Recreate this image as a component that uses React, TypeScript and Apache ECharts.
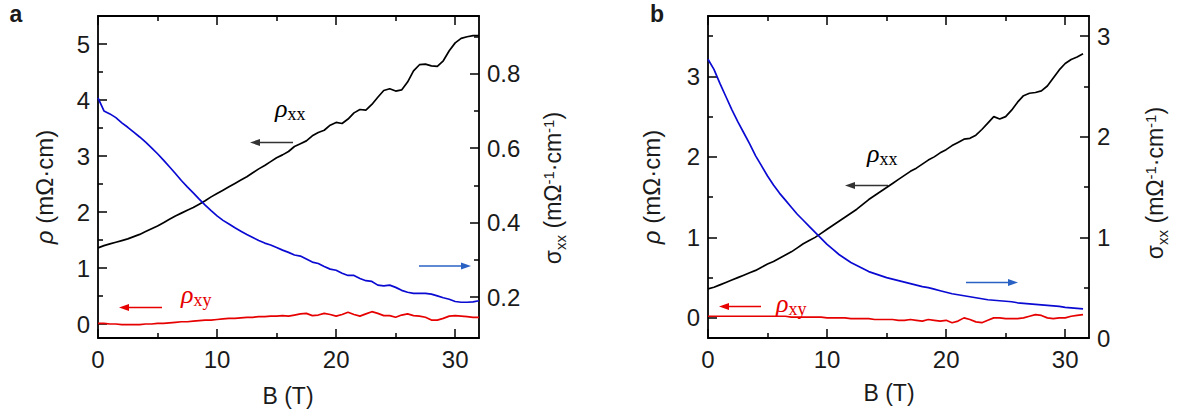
import React, { useEffect, useRef } from "react";
import * as echarts from "echarts";

// ---------- data ----------
const fieldA = [
  0, 0.5, 1, 1.5, 2, 2.5, 3, 3.5, 4, 4.5,
  5, 5.5, 6, 6.5, 7, 7.5, 8, 8.5, 9, 9.5,
  10, 10.5, 11, 11.5, 12, 12.5, 13, 13.5, 14, 14.5,
  15, 15.5, 16, 16.5, 17, 17.5, 18, 18.5, 19, 19.5,
  20, 20.5, 21, 21.5, 22, 22.5, 23, 23.5, 24, 24.5,
  25, 25.5, 26, 26.5, 27, 27.5, 28, 28.5, 29, 29.5,
  30, 30.5, 31, 31.5, 32,
];
const rhoXxA = [
  1.36, 1.4, 1.43, 1.46, 1.49, 1.52, 1.56, 1.6, 1.65, 1.7,
  1.75, 1.81, 1.87, 1.93, 1.98, 2.03, 2.08, 2.14, 2.2, 2.27,
  2.33, 2.39, 2.45, 2.51, 2.57, 2.63, 2.7, 2.77, 2.83, 2.9,
  2.97, 3.02, 3.08, 3.17, 3.22, 3.27, 3.36, 3.42, 3.46, 3.55,
  3.6, 3.58, 3.66, 3.77, 3.83, 3.82, 3.92, 4.05, 4.17, 4.2,
  4.16, 4.18, 4.32, 4.52, 4.63, 4.64, 4.61, 4.6, 4.7, 4.88,
  5.02, 5.1, 5.13, 5.15, 5.15,
];
const rhoXyA = [
  0.01, 0.01, 0.0, 0.0, -0.01, -0.01, -0.01, -0.01, 0.0, 0.0,
  0.01, 0.01, 0.02, 0.03, 0.04, 0.04, 0.05, 0.06, 0.07, 0.07,
  0.08, 0.09, 0.1, 0.1, 0.11, 0.12, 0.12, 0.13, 0.13, 0.14,
  0.14, 0.15, 0.14, 0.16, 0.18, 0.19, 0.15, 0.16, 0.19, 0.17,
  0.14, 0.17, 0.21, 0.17, 0.14, 0.18, 0.22, 0.19, 0.15, 0.15,
  0.12, 0.16, 0.18, 0.15, 0.14, 0.12, 0.07, 0.07, 0.1, 0.14,
  0.15, 0.14, 0.13, 0.12, 0.12,
];
const sigmaXxA = [
  0.735, 0.7, 0.692, 0.682, 0.668, 0.656, 0.643, 0.63, 0.616, 0.601,
  0.585, 0.568, 0.55, 0.532, 0.513, 0.496, 0.48, 0.463, 0.447, 0.432,
  0.418, 0.406, 0.396, 0.386, 0.377, 0.368, 0.36, 0.352, 0.345, 0.34,
  0.333, 0.326, 0.32, 0.313, 0.31, 0.302, 0.294, 0.29, 0.282, 0.275,
  0.272, 0.264, 0.258, 0.258, 0.25, 0.244, 0.242, 0.232, 0.23, 0.232,
  0.226, 0.218, 0.213, 0.21, 0.21, 0.21, 0.208, 0.203, 0.198, 0.194,
  0.188, 0.186, 0.186, 0.187, 0.19,
];

const fieldB = [
  0, 0.5, 1, 1.5, 2, 2.5, 3, 3.5, 4, 4.5,
  5, 5.5, 6, 6.5, 7, 7.5, 8, 8.5, 9, 9.5,
  10, 10.5, 11, 11.5, 12, 12.5, 13, 13.5, 14, 14.5,
  15, 15.5, 16, 16.5, 17, 17.5, 18, 18.5, 19, 19.5,
  20, 20.5, 21, 21.5, 22, 22.5, 23, 23.5, 24, 24.5,
  25, 25.5, 26, 26.5, 27, 27.5, 28, 28.5, 29, 29.5,
  30, 30.5, 31, 31.5,
];
const rhoXxB = [
  0.36, 0.38, 0.41, 0.44, 0.47, 0.5, 0.53, 0.56, 0.59, 0.63,
  0.67, 0.7, 0.74, 0.78, 0.82, 0.87, 0.92, 0.96, 1.0, 1.05,
  1.1, 1.15, 1.2, 1.25, 1.3, 1.35, 1.41, 1.47, 1.52, 1.57,
  1.62, 1.67, 1.72, 1.77, 1.82, 1.86, 1.91, 1.96, 2.0, 2.05,
  2.09, 2.14, 2.18, 2.22, 2.23, 2.27, 2.34, 2.42, 2.5, 2.47,
  2.5, 2.58, 2.68, 2.76, 2.79, 2.8, 2.82, 2.88, 2.98, 3.08,
  3.16, 3.21, 3.24, 3.28,
];
const rhoXyB = [
  0.02, 0.02, 0.02, 0.02, 0.02, 0.02, 0.02, 0.02, 0.02, 0.02,
  0.02, 0.02, 0.02, 0.02, 0.01, 0.01, 0.01, 0.01, 0.01, 0.01,
  0.0, 0.0, 0.0, 0.0, -0.01, -0.01, -0.01, -0.01, -0.02, -0.02,
  -0.02, -0.02, -0.03, -0.03, -0.02, -0.03, -0.04, -0.02, -0.03, -0.04,
  -0.03, -0.06, -0.04, 0.0, -0.02, -0.05, -0.06, -0.03, 0.0, 0.0,
  -0.01, -0.01, -0.01, 0.0, 0.02, 0.04, 0.03, 0.0, -0.01, 0.0,
  0.0, 0.02, 0.03, 0.04,
];
const sigmaXxB = [
  2.77, 2.67, 2.53, 2.4, 2.27, 2.15, 2.04, 1.93, 1.81, 1.71,
  1.61, 1.52, 1.44, 1.37, 1.3, 1.23, 1.17, 1.11, 1.05, 0.99,
  0.93, 0.88, 0.83, 0.79, 0.75, 0.72, 0.69, 0.66, 0.64, 0.62,
  0.6, 0.585, 0.57, 0.555, 0.54, 0.525, 0.51, 0.5, 0.485, 0.47,
  0.455, 0.44, 0.43, 0.42, 0.41, 0.4, 0.39, 0.38, 0.375, 0.37,
  0.365, 0.36, 0.35, 0.345, 0.34, 0.335, 0.33, 0.325, 0.32, 0.315,
  0.305, 0.3, 0.295, 0.29,
];

// tick values
const bTicks = [0, 10, 20, 30];
const bMinorTicks = [5, 15, 25];
const rhoTicksA = [0, 1, 2, 3, 4, 5];
const rhoMinorA = [0.5, 1.5, 2.5, 3.5, 4.5];
const sigmaTicksA = [0.2, 0.4, 0.6, 0.8];
const sigmaMinorA = [0.3, 0.5, 0.7, 0.9];
const rhoTicksB = [0, 1, 2, 3];
const rhoMinorB = [0.5, 1.5, 2.5, 3.5];
const sigmaTicksB = [0, 1, 2, 3];
const sigmaMinorB = [0.5, 1.5, 2.5];

// ---------- styling ----------
const SANS = "'Liberation Sans', Arial, sans-serif";
const SERIF = "'Liberation Serif', 'Times New Roman', serif";
const TICK_FONT = 24;
const BLACK = "#000000";
const BLUE = "#0a0ad2";
const RED = "#e60000";

const GRIDS = [
  { left: 98, top: 16, width: 381, height: 322 },
  { left: 708, top: 16, width: 381, height: 322 },
];

const PANELS = [
  {
    field: fieldA, rhoXx: rhoXxA, rhoXy: rhoXyA, sigma: sigmaXxA,
    leftMin: -0.25, leftMax: 5.5, leftMajor: rhoTicksA, leftMinor: rhoMinorA,
    rightMin: 0.09, rightMax: 0.955, rightMajor: sigmaTicksA, rightMinor: sigmaMinorA,
    rightFmt: (v: number) => v.toFixed(1),
  },
  {
    field: fieldB, rhoXx: rhoXxB, rhoXy: rhoXyB, sigma: sigmaXxB,
    leftMin: -0.25, leftMax: 3.75, leftMajor: rhoTicksB, leftMinor: rhoMinorB,
    rightMin: 0, rightMax: 3.2, rightMajor: sigmaTicksB, rightMinor: sigmaMinorB,
    rightFmt: (v: number) => String(Math.round(v)),
  },
];

const lineStyle = { color: "#000", width: 1.8 };
const tickStyle = { color: "#000", width: 1.5 };

function axis(
  gridIndex: number,
  position: string,
  min: number,
  max: number,
  ticks: number[],
  major: boolean,
  labels: boolean,
  formatter?: (v: number) => string,
) {
  return {
    type: "value",
    gridIndex,
    position,
    min,
    max,
    splitLine: { show: false },
    axisLine: { show: major, onZero: false, lineStyle },
    axisTick: {
      show: true,
      inside: true,
      length: major ? 9 : 5,
      customValues: ticks,
      lineStyle: tickStyle,
    },
    axisLabel: {
      show: labels,
      customValues: ticks,
      fontSize: TICK_FONT,
      fontFamily: SANS,
      color: "#1a1a1a",
      margin: position === "bottom" ? 9 : 8,
      formatter,
    },
  };
}

function arrow(x1: number, y1: number, x2: number, y2: number, color: string) {
  const dir = Math.sign(x2 - x1);
  const head = 10;
  const half = 3.5;
  return [
    {
      type: "line",
      silent: true,
      shape: { x1, y1, x2: x2 - dir * head + dir, y2 },
      style: { stroke: color, lineWidth: 1.3 },
    },
    {
      type: "polygon",
      silent: true,
      shape: { points: [[x2, y2], [x2 - dir * head, y2 - half], [x2 - dir * head, y2 + half]] },
      style: { fill: color },
    },
  ];
}

function rhoLabel(x: number, y: number, sub: string, color: string) {
  return {
    type: "text",
    silent: true,
    x,
    y,
    style: {
      text: `{r|ρ}{s|${sub}}`,
      align: "left",
      verticalAlign: "middle",
      fill: color,
      rich: {
        r: { fontFamily: SERIF, fontStyle: "italic", fontSize: 26, lineHeight: 30, fill: color },
        s: { fontFamily: SERIF, fontSize: 18, lineHeight: 18, verticalAlign: "bottom", fill: color },
      },
    },
  };
}

function rhoTitle(x: number, y: number) {
  return {
    type: "text",
    silent: true,
    x,
    y,
    rotation: Math.PI / 2,
    style: {
      text: "{i|ρ}{n| (mΩ·cm)}",
      align: "center",
      verticalAlign: "middle",
      fill: "#1a1a1a",
      rich: {
        i: { fontFamily: SANS, fontStyle: "italic", fontSize: 24, fill: "#1a1a1a" },
        n: { fontFamily: SANS, fontSize: 24, fill: "#1a1a1a" },
      },
    },
  };
}

function sigmaTitle(x: number, y: number) {
  return {
    type: "text",
    silent: true,
    x,
    y,
    rotation: Math.PI / 2,
    style: {
      text: "{n|σ}{sub|xx}{n| (mΩ}{sup|-1}{n|·cm}{sup|-1}{n|)}",
      align: "center",
      verticalAlign: "middle",
      fill: "#1a1a1a",
      rich: {
        n: { fontFamily: SANS, fontSize: 23, lineHeight: 30, fill: "#1a1a1a" },
        sub: { fontFamily: SANS, fontSize: 15, lineHeight: 15, verticalAlign: "bottom", fill: "#1a1a1a" },
        sup: { fontFamily: SANS, fontSize: 15, lineHeight: 15, verticalAlign: "top", padding: [3, 0, 0, 0], fill: "#1a1a1a" },
      },
    },
  };
}

function plainText(x: number, y: number, text: string, size: number, bold = false) {
  return {
    type: "text",
    silent: true,
    x,
    y,
    style: {
      text,
      align: "center",
      verticalAlign: "middle",
      fontFamily: SANS,
      fontSize: size,
      fontWeight: bold ? "bold" : "normal",
      fill: "#1a1a1a",
    },
  };
}

function buildOption() {
  const xAxis: any[] = [];
  const yAxis: any[] = [];
  const series: any[] = [];
  PANELS.forEach((p, g) => {
    xAxis.push(axis(g, "bottom", 0, 32, bTicks, true, true));
    xAxis.push(axis(g, "bottom", 0, 32, bMinorTicks, false, false));
    xAxis.push(axis(g, "top", 0, 32, bTicks, true, false));
    xAxis.push(axis(g, "top", 0, 32, bMinorTicks, false, false));
    yAxis.push(axis(g, "left", p.leftMin, p.leftMax, p.leftMajor, true, true));
    yAxis.push(axis(g, "left", p.leftMin, p.leftMax, p.leftMinor, false, false));
    yAxis.push(axis(g, "right", p.rightMin, p.rightMax, p.rightMajor, true, true, p.rightFmt));
    yAxis.push(axis(g, "right", p.rightMin, p.rightMax, p.rightMinor, false, false));

    const base = { type: "line", showSymbol: false, symbol: "none", silent: true, xAxisIndex: g * 4 };
    series.push({
      ...base, name: `rhoXx${g}`, yAxisIndex: g * 4,
      data: p.field.map((b, i) => [b, p.rhoXx[i]]),
      lineStyle: { color: BLACK, width: 1.7 },
    });
    series.push({
      ...base, name: `sigma${g}`, yAxisIndex: g * 4 + 2,
      data: p.field.map((b, i) => [b, p.sigma[i]]),
      lineStyle: { color: BLUE, width: 1.7 },
    });
    series.push({
      ...base, name: `rhoXy${g}`, yAxisIndex: g * 4,
      data: p.field.map((b, i) => [b, p.rhoXy[i]]),
      lineStyle: { color: RED, width: 1.7 },
    });
  });

  const elements: any[] = [
    plainText(16, 14, "a", 23, true),
    plainText(657, 14, "b", 23, true),
    rhoTitle(44, 187),
    sigmaTitle(553, 188),
    rhoTitle(651, 187),
    sigmaTitle(1155, 183),
    plainText(288, 396, "B (T)", 23),
    plainText(889, 393, "B (T)", 23),
    rhoLabel(275, 108, "xx", BLACK),
    ...arrow(293, 142.5, 250, 142.5, "#333333"),
    ...arrow(419, 266, 471, 266, "#2a62c4"),
    rhoLabel(181, 294, "xy", RED),
    ...arrow(162, 307.5, 119, 307.5, RED),
    rhoLabel(867, 153, "xx", BLACK),
    ...arrow(888, 185.5, 845, 185.5, "#333333"),
    ...arrow(966, 282.5, 1018, 282.5, "#2a62c4"),
    rhoLabel(776, 303, "xy", RED),
    ...arrow(761, 306.5, 719, 306.5, RED),
  ];

  return {
    animation: false,
    backgroundColor: "#ffffff",
    grid: GRIDS.map((g) => ({ ...g, containLabel: false })),
    xAxis,
    yAxis,
    series,
    graphic: { elements },
  };
}

export default function App() {
  const ref = useRef<HTMLDivElement>(null);
  useEffect(() => {
    if (!ref.current) return;
    const chart = echarts.init(ref.current, undefined, { renderer: "svg" });
    chart.setOption(buildOption() as any);
    return () => chart.dispose();
  }, []);
  return (
    <div
      ref={ref}
      style={{ position: "absolute", left: 0, top: 0, width: 1177, height: 416 }}
    />
  );
}
